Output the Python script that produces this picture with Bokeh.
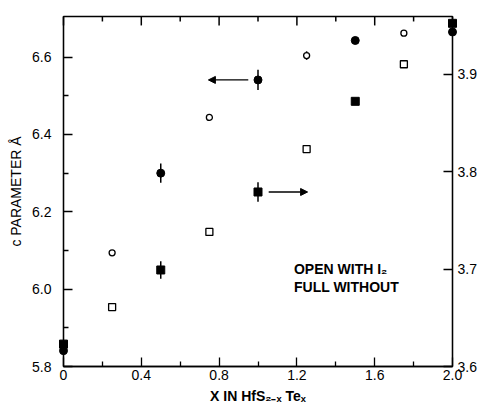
from bokeh.plotting import figure
from bokeh.models import (ColumnDataSource, Range1d, LinearAxis, FixedTicker,
                          Arrow, NormalHead, Label, PrintfTickFormatter)
from bokeh.core.properties import value
from bokeh.embed import file_html
from bokeh.resources import INLINE

# ---- data ----
# c parameter (left axis, circles)
c_full_x = [0.0, 0.5, 1.0, 1.5, 2.0]
c_full_y = [5.841, 6.300, 6.541, 6.643, 6.665]
c_full_err = [0.0, 0.025, 0.026, 0.0, 0.0]
c_open_x = [0.25, 0.75, 1.25, 1.75]
c_open_y = [6.094, 6.444, 6.604, 6.662]
c_open_err = [0.0, 0.0, 0.011, 0.0]
# a parameter (right axis, squares)
a_full_x = [0.0, 0.5, 1.0, 1.5, 2.0]
a_full_y = [3.623, 3.699, 3.779, 3.872, 3.952]
a_full_err = [0.0, 0.009, 0.010, 0.0, 0.0]
a_open_x = [0.25, 0.75, 1.25, 1.75]
a_open_y = [3.661, 3.738, 3.823, 3.910]
a_open_err = [0.0, 0.004, 0.004, 0.0]

x_ticks = [0.0, 0.4, 0.8, 1.2, 1.6, 2.0]
x_minor = [0.2, 0.6, 1.0, 1.4, 1.8]
c_ticks = [5.8, 6.0, 6.2, 6.4, 6.6]
c_minor = [5.9, 6.1, 6.3, 6.5]
a_ticks = [3.6, 3.7, 3.8, 3.9]

# arrows: (x_start, x_end, y)
arrow_c = [0.95, 0.745, 6.541]
arrow_a = [1.055, 1.255, 3.779]

note_lines = ["OPEN WITH I\u2082", "FULL WITHOUT"]
note_x = [1.185, 1.185]
note_y = [6.051, 6.005]

C_MIN, C_MAX = 5.8, 6.705
A_MIN, A_MAX = 3.6, 3.959

FONT = "'Liberation Sans', Arial, sans-serif"
W, H = 496, 406
B_LEFT, B_RIGHT, B_TOP, B_BOTTOM = 63, 44, 16, 38
FRAME_H = H - B_TOP - B_BOTTOM

p = figure(width=W, height=H, output_backend="svg", toolbar_location=None,
           x_range=Range1d(0.0, 2.0), y_range=Range1d(C_MIN, C_MAX),
           min_border_left=B_LEFT, min_border_right=B_RIGHT, min_border_top=B_TOP,
           min_border_bottom=B_BOTTOM, background_fill_color="white",
           border_fill_color="white")
p.extra_y_ranges = {"a": Range1d(A_MIN, A_MAX)}
p.grid.visible = False
p.outline_line_color = "black"
p.outline_line_width = 1.3


def style_axis(ax, size="14px"):
    ax.axis_line_color = "black"
    ax.axis_line_width = 1.3
    ax.major_tick_line_color = "black"
    ax.minor_tick_line_color = "black"
    ax.major_tick_line_width = 1.3
    ax.minor_tick_line_width = 1.3
    ax.major_tick_in = 9
    ax.major_tick_out = 0
    ax.minor_tick_in = 5
    ax.minor_tick_out = 0
    ax.major_label_text_font = FONT
    ax.major_label_text_font_size = size
    ax.major_label_text_color = "black"
    ax.axis_label_text_font = FONT
    ax.axis_label_text_color = "black"


xa = p.xaxis[0]
xa.ticker = FixedTicker(ticks=x_ticks, minor_ticks=x_minor)
xa.formatter = PrintfTickFormatter(format="%.1f")
xa.major_label_overrides = {0: "0"}
style_axis(xa)
xa.major_label_standoff = 3
xa.axis_label = "X IN HfS\u2082\u208b\u2093 Te\u2093"
xa.axis_label_text_font_size = "14px"
xa.axis_label_text_font_style = "bold"
xa.axis_label_standoff = 5

ya = p.yaxis[0]
ya.ticker = FixedTicker(ticks=c_ticks, minor_ticks=c_minor)
ya.formatter = PrintfTickFormatter(format="%.1f")
style_axis(ya)
ya.major_label_standoff = 12
ya.axis_label = "c PARAMETER \u00c5"
ya.axis_label_text_font_size = "14px"
ya.axis_label_text_font_style = "normal"
ya.axis_label_standoff = 5

ra = LinearAxis(y_range_name="a", ticker=FixedTicker(ticks=a_ticks, minor_ticks=[]),
                formatter=PrintfTickFormatter(format="%.1f"))
style_axis(ra)
ra.major_label_standoff = 5
p.add_layout(ra, "right")

# top-edge inward ticks (9 px major, 5 px minor) at the same x ticks
per_px = (C_MAX - C_MIN) / FRAME_H
r = p.segment(x0=x_ticks, x1=x_ticks, y0=[C_MAX] * len(x_ticks),
              y1=[C_MAX - 9 * per_px] * len(x_ticks), line_color="black", line_width=1.5)
r.level = "overlay"
r = p.segment(x0=x_minor, x1=x_minor, y0=[C_MAX] * len(x_minor),
              y1=[C_MAX - 5 * per_px] * len(x_minor), line_color="black", line_width=1.5)
r.level = "overlay"

# right axis title, reading bottom-to-top
p.add_layout(Label(x=2.0, y=6.17, x_offset=37, text="a PARAMETER \u00c5",
                   angle=90, angle_units="deg", text_align="center",
                   text_baseline="middle", text_font=FONT,
                   text_font_size="14px", text_color="black"))

# ---- error bars ----
def err_source(xs, ys, es):
    xx, y0, y1 = [], [], []
    for x, y, e in zip(xs, ys, es):
        if e > 0:
            xx.append(x); y0.append(y - e); y1.append(y + e)
    return ColumnDataSource(dict(x=xx, y0=y0, y1=y1))

for xs, ys, es, rng in [(c_full_x, c_full_y, c_full_err, "default"),
                        (c_open_x, c_open_y, c_open_err, "default"),
                        (a_full_x, a_full_y, a_full_err, "a"),
                        (a_open_x, a_open_y, a_open_err, "a")]:
    r = p.segment(x0="x", x1="x", y0="y0", y1="y1", source=err_source(xs, ys, es),
                  line_color="black", line_width=1.5, y_range_name=rng)
    r.level = "overlay"

# ---- markers ----
r = p.scatter(a_full_x, a_full_y, marker="square", size=8, fill_color="black",
              line_color="black", y_range_name="a")
r.level = "overlay"
r = p.scatter(a_open_x, a_open_y, marker="square", size=7, fill_color="white",
              line_color="black", line_width=1.3, y_range_name="a")
r.level = "overlay"
r = p.scatter(c_full_x, c_full_y, marker="circle", size=8, fill_color="black",
              line_color="black")
r.level = "overlay"
r = p.scatter(c_open_x, c_open_y, marker="circle", size=6, fill_color="white",
              line_color="black", line_width=1.3)
r.level = "overlay"

# ---- arrows ----
p.add_layout(Arrow(end=NormalHead(size=7, fill_color="black", line_color="black"),
                   x_start=arrow_c[0], x_end=arrow_c[1], y_start=arrow_c[2], y_end=arrow_c[2],
                   line_color="black", line_width=1.3))
p.add_layout(Arrow(end=NormalHead(size=7, fill_color="black", line_color="black"),
                   x_start=arrow_a[0], x_end=arrow_a[1], y_start=arrow_a[2], y_end=arrow_a[2],
                   line_color="black", line_width=1.3, y_range_name="a"))

# ---- note ----
p.text(x=note_x, y=note_y, text=note_lines, text_font=value(FONT),
       text_font_size="14px", text_font_style="bold", text_color="black",
       text_align="left", text_baseline="middle")

open("out.html", "w").write(file_html(p, INLINE))
